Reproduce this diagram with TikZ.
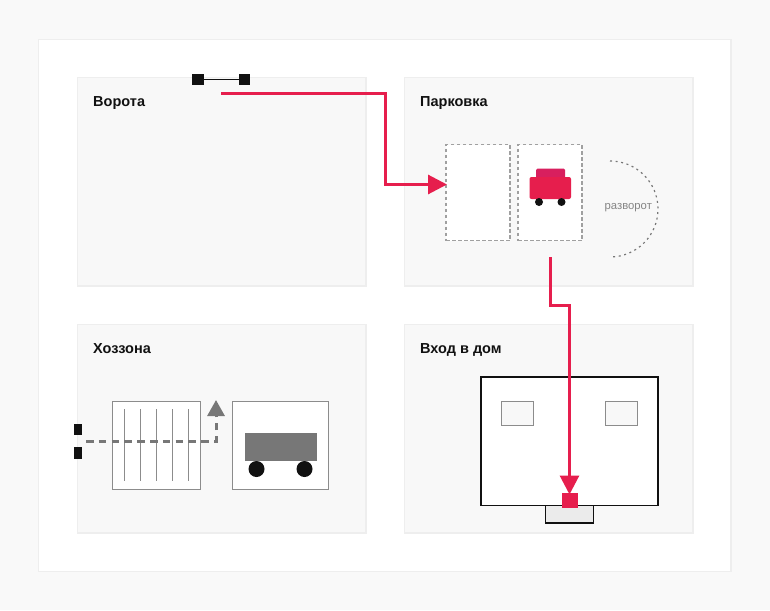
\documentclass[tikz,border=0pt]{standalone}
\usepackage{fontspec}
\setmainfont{Liberation Sans}
\usetikzlibrary{arrows.meta}
\definecolor{pagegray}{HTML}{F9F9F9}
\definecolor{zonegray}{HTML}{F8F8F8}
\definecolor{edgegray}{HTML}{EEEEEE}
\definecolor{midgray}{HTML}{777777}
\definecolor{linegray}{HTML}{8C8C8C}
\definecolor{dashgray}{HTML}{A0A0A0}
\definecolor{porchgray}{HTML}{EBEBEB}
\definecolor{ink}{HTML}{111111}
\definecolor{accent}{HTML}{E61E4D}
\definecolor{roofred}{HTML}{D81F5E}
\tikzset{
    box/.style={draw,rectangle,inner sep=0pt,outer sep=0pt,minimum width=#1},
    zonebox/.style={box=288.8,minimum height=208.8,fill=zonegray,draw=edgegray,line width=1.2},
    zonelabel/.style={anchor=base west,inner sep=0pt,font=\fontsize{14.5}{16}\selectfont\bfseries,text=ink},
    blackblock/.style={box=#1,fill=ink,draw=none},
    route/.style={draw=accent,line width=3,-{Triangle[width=19,length=19]}},
}
\begin{document}
\begin{tikzpicture}[x=1pt,y=-1pt]
    \useasboundingbox[fill=pagegray] (0,0) rectangle (770,610);
    \draw[edgegray,fill=white,line width=1.2] (38.5,39.5) rectangle (731,571.5);
    % zones
    \foreach\zonename/\zonex/\zoney/\zonetext in{gates/221.6/181.6/Ворота,parking/548.6/181.6/Парковка,yard/221.6/428.6/Хоззона,entry/548.6/428.6/Вход в дом}{
        \node[zonebox] (\zonename) at (\zonex,\zoney){};
        \node[zonelabel] at ([xshift=15.8,yshift=-29.5]\zonename.north west){\zonetext};
    }
    % gates
    \node[blackblock=11.5,minimum height=11] (gateleft) at (198,79.5){};
    \node[blackblock=11.5,minimum height=11] (gateright) at (244.5,79.5){};
    \draw[ink,line width=1.5] (gateleft) -- (gateright);
    % parking
    \foreach\slotname/\slotx in{slotleft/478,slotright/550}{
        \node[box=64,minimum height=96,fill=white,draw=dashgray,dash pattern=on 3.5pt off 2.5pt,line width=1.2] (\slotname) at (\slotx,192.5){};
    }
    \fill[roofred,rounded corners=1.5] (536,168.5) rectangle (565,180);
    \fill[accent,rounded corners=2] (529.5,177) rectangle (571,199);
    \foreach\wheelx in{539,561.5}{
        \fill[ink] (\wheelx,202) circle (4);
    }
    \draw[midgray,line width=1.2,dash pattern=on 2pt off 3.6pt] (610,161) arc[start angle=-90,end angle=90,radius=48];
    \node[inner sep=0pt,text=midgray!90!white,font=\fontsize{11.3}{13}\selectfont] (turnlabel) at (628.3,208){разворот};
    % yard
    \node[box=88,minimum height=88,fill=white,draw=linegray,line width=1.2] (shed) at (156.5,445.5){};
    \foreach\slatx in{124.5,140.5,...,188.5}{
        \draw[linegray,line width=1] (\slatx,409) -- (\slatx,481);
    }
    \node[box=96,minimum height=88,fill=white,draw=linegray,line width=1.2] (truckbox) at (280.5,445.5){};
    \node[box=72,minimum height=28,fill=midgray,draw=none] (cargo) at (280.5,447){};
    \foreach\wheelx in{256.5,304.5}{
        \fill[ink] (\wheelx,469) circle (8);
    }
    \node[blackblock=8,minimum height=11.5] (yardgateup) at (77.7,429.3){};
    \node[blackblock=8,minimum height=11.5] (yardgatedown) at (77.7,453.2){};
    \coordinate (yardstart) at (86,441);
    \coordinate (yardturn) at (216,441);
    \coordinate (yardend) at (216,400);
    \draw[draw=midgray,line width=3,dash pattern=on 7.5pt off 5.3pt,-{Triangle[width=17,length=16,fill=midgray]}] (yardstart) -- (yardturn) -- (yardend);
    % house
    \node[box=48,minimum height=18,fill=porchgray,draw=ink,line width=1.2] (porch) at (569.5,514){};
    \node[box=177,minimum height=128.5,fill=white,draw=ink,line width=1.8] (house) at (569.5,441.25){};
    \foreach\windowx in{517.5,621.5}{
        \node[box=32,minimum height=24,fill=zonegray,draw=linegray,line width=1.2] at (\windowx,413.5){};
    }
    \node[box=16,minimum height=15,fill=accent,draw=none] (doormark) at (569.5,500.5){};
    % routes
    \coordinate (gateexit) at (221,93);
    \coordinate (parkentry) at (447,184.5);
    \coordinate (parkexit) at (550,257);
    \draw[route] (gateexit) -- (385,93) -- (385,184.5) -- (parkentry);
    \draw[route,shorten >=-1.5] (parkexit) -- (550,305) -- (569.5,305) -- (doormark.north);
\end{tikzpicture}
\end{document}
